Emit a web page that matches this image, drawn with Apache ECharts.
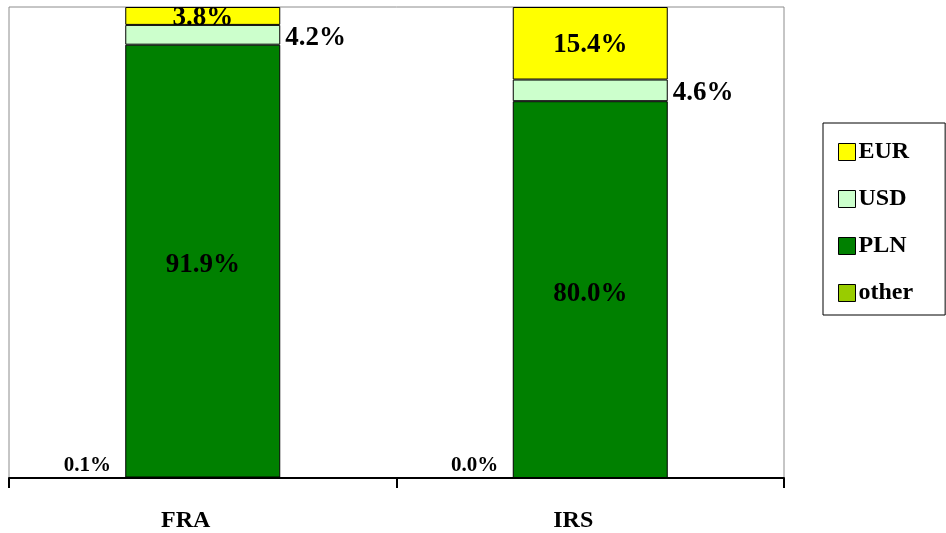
<!DOCTYPE html>
<html>
<head>
<meta charset="utf-8">
<script src="https://cdn.jsdelivr.net/npm/echarts@6/dist/echarts.min.js"></script>
<style>
  html, body { margin: 0; padding: 0; background: #ffffff; }
  #chart { width: 946px; height: 533px; }
</style>
</head>
<body>
<div id="chart"></div>
<script>
// Instrument categories and currency shares (percent of turnover)
const categories = ['FRA', 'IRS'];
const otherShare = [0.1, 0.0];
const plnShare = [91.9, 80.0];
const usdShare = [4.2, 4.6];
const eurShare = [3.8, 15.4];
const legendOrder = ['EUR', 'USD', 'PLN', 'other'];

const FONT = '"Liberation Serif", "Times New Roman", serif';
const pct = p => p.value.toFixed(1) + '%';

const chart = echarts.init(document.getElementById('chart'), null, { renderer: 'canvas' });

const barBorder = { borderColor: '#000000', borderWidth: 1 };
const bigLabel = { formatter: pct, fontFamily: FONT, fontWeight: 'bold', fontSize: 27, color: '#000' };

chart.setOption({
  animation: false,
  backgroundColor: '#ffffff',
  grid: {
    left: 9, right: 162, top: 7, bottom: 55,
    show: true, borderColor: '#8c8c8c', borderWidth: 1
  },
  legend: {
    data: legendOrder,
    orient: 'vertical',
    left: 823, top: 123,
    padding: [17, 32, 10, 15],
    itemGap: 23,
    itemWidth: 17, itemHeight: 17,
    icon: 'rect',
    borderColor: '#000000', borderWidth: 1,
    itemStyle: { borderColor: '#000000', borderWidth: 1 },
    textStyle: { fontFamily: FONT, fontWeight: 'bold', fontSize: 24, color: '#000', lineHeight: 24, padding: [0, 0, 0, -2] }
  },
  xAxis: {
    type: 'category',
    data: categories,
    axisLine: { lineStyle: { color: '#000000', width: 2 } },
    axisTick: { show: true, length: 10, lineStyle: { color: '#000000', width: 2 } },
    axisLabel: {
      fontFamily: FONT, fontWeight: 'bold', fontSize: 24, color: '#000',
      margin: 31, padding: [0, 34, 0, 0]
    }
  },
  yAxis: {
    type: 'value', min: 0, max: 100, show: false,
    splitLine: { show: false }
  },
  series: [
    {
      name: 'other', type: 'bar', stack: 'total', barWidth: '40%',
      data: otherShare,
      itemStyle: Object.assign({ color: '#99cc00' }, barBorder),
      label: {
        show: true, position: 'left', distance: 14, offset: [0, -12],
        formatter: pct, fontFamily: FONT, fontWeight: 'bold', fontSize: 21, color: '#000'
      }
    },
    {
      name: 'PLN', type: 'bar', stack: 'total',
      data: plnShare,
      itemStyle: Object.assign({ color: '#008000' }, barBorder),
      label: Object.assign({ show: true, position: 'inside', offset: [0, 4] }, bigLabel)
    },
    {
      name: 'USD', type: 'bar', stack: 'total',
      data: usdShare,
      itemStyle: Object.assign({ color: '#ccffcc' }, barBorder),
      label: Object.assign({ show: true, position: 'right', distance: 5, offset: [0, 3] }, bigLabel)
    },
    {
      name: 'EUR', type: 'bar', stack: 'total',
      data: eurShare,
      itemStyle: Object.assign({ color: '#ffff00' }, barBorder),
      label: Object.assign({ show: true, position: 'inside', offset: [0, 2] }, bigLabel)
    }
  ]
});
</script>
</body>
</html>
